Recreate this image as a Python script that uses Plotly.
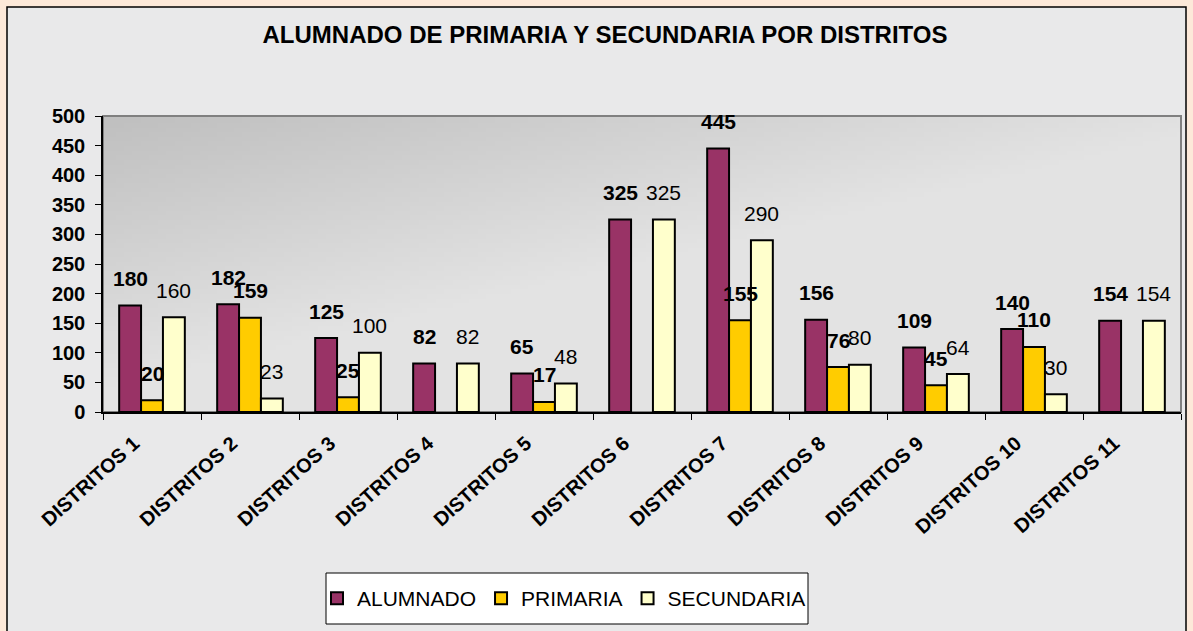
import zlib, struct, base64
import plotly.graph_objects as go

# ---------------- data ----------------
categories = ["DISTRITOS 1", "DISTRITOS 2", "DISTRITOS 3", "DISTRITOS 4", "DISTRITOS 5",
              "DISTRITOS 6", "DISTRITOS 7", "DISTRITOS 8", "DISTRITOS 9", "DISTRITOS 10",
              "DISTRITOS 11"]
alumnado = [180, 182, 125, 82, 65, 325, 445, 156, 109, 140, 154]
primaria = [20, 159, 25, None, 17, None, 155, 76, 45, 110, None]
secundaria = [160, 23, 100, 82, 48, 325, 290, 80, 64, 30, 154]
series_names = ["ALUMNADO", "PRIMARIA", "SECUNDARIA"]
y_ticks = [0, 50, 100, 150, 200, 250, 300, 350, 400, 450, 500]
title_text = "ALUMNADO DE PRIMARIA Y SECUNDARIA POR DISTRITOS"

# ---------------- geometry helpers (pixels -> paper) ----------------
W, H = 1193, 631
L, R, T, B = 103, 1181, 116, 412   # plot area in pixels
PW, PH = R - L, B - T


def px2x(px):
    return (px - L) / PW


def py2y(py):
    return (B - py) / PH


# ---------------- gradient image for plot area ----------------
def png_gray(w, h, rows):
    raw = b"".join(b"\x00" + bytes(r) for r in rows)

    def chunk(t, d):
        c = struct.pack(">I", len(d)) + t + d
        return c + struct.pack(">I", zlib.crc32(t + d) & 0xffffffff)

    return (b"\x89PNG\r\n\x1a\n" + chunk(b"IHDR", struct.pack(">IIBBBBB", w, h, 8, 0, 0, 0, 0))
            + chunk(b"IDAT", zlib.compress(raw)) + chunk(b"IEND", b""))


gw, gh = 128, 64
rows = []
for j in range(gh):
    row = []
    for i in range(gw):
        u = i / (gw - 1)
        w = j / (gh - 1)
        t = min(1.0, 0.95 * u + 1.1 * w)
        row.append(int(192 + 35 * t))
    rows.append(row)
grad_uri = "data:image/png;base64," + base64.b64encode(png_gray(gw, gh, rows)).decode()

colors = ["#993366", "#FFCC00", "#FFFFCC"]
values = [alumnado, primaria, secundaria]
font = "Liberation Sans, Arial, sans-serif"

fig = go.Figure()
for name, vals, col in zip(series_names, values, colors):
    fig.add_trace(go.Bar(
        name=name, x=categories, y=vals,
        marker=dict(color=col, line=dict(color="black", width=2)),
        hoverinfo="x+y",
    ))

# data labels
bar_px = PW / len(categories) * (1 - 0.33) / 3
annotations = []
for k, vals in enumerate(values):
    for cat, v in zip(categories, vals):
        if v is None:
            continue
        annotations.append(dict(
            x=cat, y=v, xref="x", yref="y", text=str(v), showarrow=False,
            xshift=(k - 1) * bar_px, yshift=27, yanchor="middle", xanchor="center",
            font=dict(family=font, size=21, color="black",
                      weight="bold" if k < 2 else "normal"),
        ))

peach = "#FDE9D9"
shapes = [
    # peach margins
    dict(type="rect", xref="paper", yref="paper", x0=px2x(0), x1=px2x(7), y0=py2y(W), y1=py2y(0),
         fillcolor=peach, line=dict(width=0), layer="below"),
    dict(type="rect", xref="paper", yref="paper", x0=px2x(1186), x1=px2x(W), y0=py2y(W), y1=py2y(0),
         fillcolor=peach, line=dict(width=0), layer="below"),
    dict(type="rect", xref="paper", yref="paper", x0=px2x(0), x1=px2x(W), y0=py2y(7), y1=py2y(0),
         fillcolor=peach, line=dict(width=0), layer="below"),
    # chart area border
    dict(type="path", xref="paper", yref="paper",
         path=f"M {px2x(7)},{py2y(640)} L {px2x(7)},{py2y(7)} L {px2x(1186)},{py2y(7)} L {px2x(1186)},{py2y(640)}",
         line=dict(color="black", width=1.5), layer="below"),
    # plot area outline (grey)
    dict(type="rect", xref="paper", yref="paper", x0=0, x1=1, y0=0, y1=1,
         line=dict(color="#808080", width=2), fillcolor="rgba(0,0,0,0)", layer="below"),
    # legend box
    dict(type="rect", xref="paper", yref="paper", x0=px2x(326), x1=px2x(808), y0=py2y(624), y1=py2y(573),
         fillcolor="white", line=dict(color="black", width=1), layer="below"),
]

fig.update_layout(
    width=W, height=H,
    margin=dict(l=L, r=W - R, t=T, b=H - B),
    paper_bgcolor="#E9E9EA",
    plot_bgcolor="rgba(0,0,0,0)",
    barmode="group", bargap=0.33, bargroupgap=0,
    title=dict(text=title_text, x=605 / W, xanchor="center", xref="container",
               y=1 - 35 / H, yanchor="middle", yref="container",
               font=dict(family=font, size=24, color="black", weight="bold")),
    font=dict(family=font, color="black"),
    showlegend=True,
    legend=dict(orientation="h", x=px2x(564), xanchor="center", y=py2y(598.5), yanchor="middle",
                bgcolor="rgba(0,0,0,0)", borderwidth=0,
                font=dict(family=font, size=21, color="black"),
                traceorder="normal"),
    xaxis=dict(type="category", showline=True, linecolor="black", linewidth=1.5,
               ticks="outside", tickson="boundaries", ticklen=6, tickcolor="black", tickwidth=1,
               tickangle=-42, ticklabelstandoff=10, ticklabelshift=-18,
               tickfont=dict(family=font, size=20, color="black", weight="bold"),
               showgrid=False, zeroline=False),
    yaxis=dict(range=[0, 500], tickvals=y_ticks, ticktext=[str(v) for v in y_ticks],
               showline=True, linecolor="black", linewidth=1.5,
               ticks="outside", ticklen=6, tickcolor="black", tickwidth=1,
               ticklabelstandoff=6,
               tickfont=dict(family=font, size=20, color="black", weight="bold"),
               showgrid=False, zeroline=False),
    images=[dict(source=grad_uri, xref="paper", yref="paper", x=0, y=1, sizex=1, sizey=1,
                 xanchor="left", yanchor="top", sizing="stretch", layer="below")],
    shapes=shapes,
    annotations=annotations,
)

fig.write_html("out.html", config={"displayModeBar": False},
               post_script="document.body.style.margin='0';document.body.style.overflow='hidden';")
